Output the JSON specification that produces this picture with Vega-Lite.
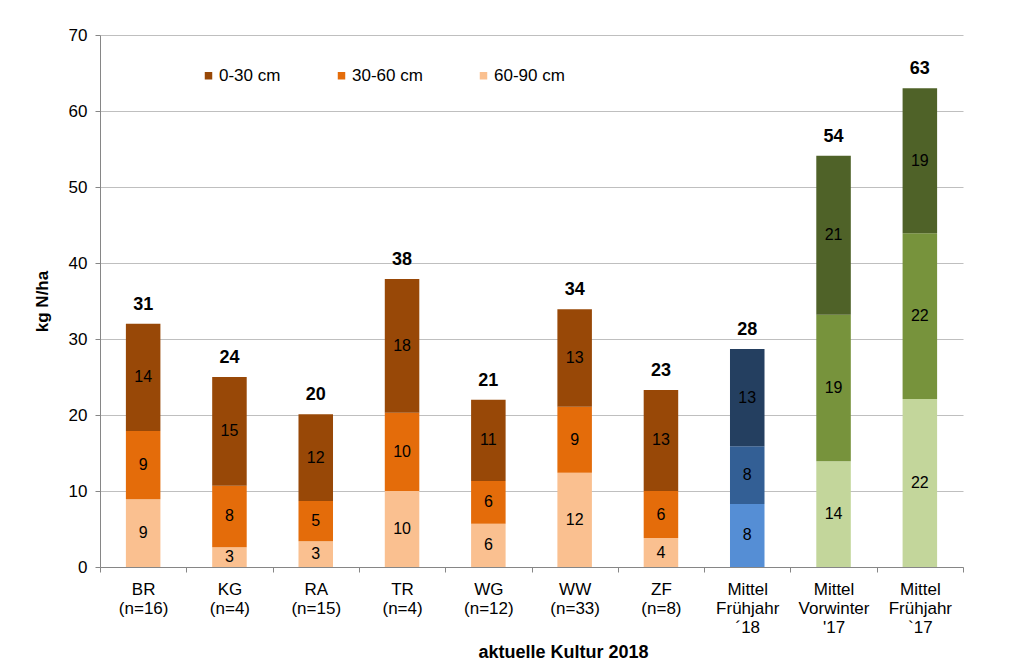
{
  "$schema": "https://vega.github.io/schema/vega-lite/v6.json",
  "width": 863,
  "height": 532,
  "autosize": "none",
  "padding": {"left": 100, "top": 35, "right": 55, "bottom": 99},
  "background": "white",
  "config": {
    "font": "Liberation Sans",
    "view": {"stroke": null},
    "axis": {"labelFont": "Liberation Sans", "titleFont": "Liberation Sans", "labelColor": "#000000", "titleColor": "#000000"}
  },
  "datasets": {
    "werte": [
      {"cat": "BR|(n=16)", "tiefe": "60-90 cm", "serie": "60-90 cm", "v": 8.9, "lab": "9"},
      {"cat": "BR|(n=16)", "tiefe": "30-60 cm", "serie": "30-60 cm", "v": 9.0, "lab": "9"},
      {"cat": "BR|(n=16)", "tiefe": "0-30 cm", "serie": "0-30 cm", "v": 14.1, "lab": "14"},
      {"cat": "KG|(n=4)", "tiefe": "60-90 cm", "serie": "60-90 cm", "v": 2.6, "lab": "3"},
      {"cat": "KG|(n=4)", "tiefe": "30-60 cm", "serie": "30-60 cm", "v": 8.1, "lab": "8"},
      {"cat": "KG|(n=4)", "tiefe": "0-30 cm", "serie": "0-30 cm", "v": 14.3, "lab": "15"},
      {"cat": "RA|(n=15)", "tiefe": "60-90 cm", "serie": "60-90 cm", "v": 3.4, "lab": "3"},
      {"cat": "RA|(n=15)", "tiefe": "30-60 cm", "serie": "30-60 cm", "v": 5.3, "lab": "5"},
      {"cat": "RA|(n=15)", "tiefe": "0-30 cm", "serie": "0-30 cm", "v": 11.4, "lab": "12"},
      {"cat": "TR|(n=4)", "tiefe": "60-90 cm", "serie": "60-90 cm", "v": 10.0, "lab": "10"},
      {"cat": "TR|(n=4)", "tiefe": "30-60 cm", "serie": "30-60 cm", "v": 10.3, "lab": "10"},
      {"cat": "TR|(n=4)", "tiefe": "0-30 cm", "serie": "0-30 cm", "v": 17.6, "lab": "18"},
      {"cat": "WG|(n=12)", "tiefe": "60-90 cm", "serie": "60-90 cm", "v": 5.7, "lab": "6"},
      {"cat": "WG|(n=12)", "tiefe": "30-60 cm", "serie": "30-60 cm", "v": 5.6, "lab": "6"},
      {"cat": "WG|(n=12)", "tiefe": "0-30 cm", "serie": "0-30 cm", "v": 10.7, "lab": "11"},
      {"cat": "WW|(n=33)", "tiefe": "60-90 cm", "serie": "60-90 cm", "v": 12.4, "lab": "12"},
      {"cat": "WW|(n=33)", "tiefe": "30-60 cm", "serie": "30-60 cm", "v": 8.7, "lab": "9"},
      {"cat": "WW|(n=33)", "tiefe": "0-30 cm", "serie": "0-30 cm", "v": 12.8, "lab": "13"},
      {"cat": "ZF|(n=8)", "tiefe": "60-90 cm", "serie": "60-90 cm", "v": 3.8, "lab": "4"},
      {"cat": "ZF|(n=8)", "tiefe": "30-60 cm", "serie": "30-60 cm", "v": 6.2, "lab": "6"},
      {"cat": "ZF|(n=8)", "tiefe": "0-30 cm", "serie": "0-30 cm", "v": 13.3, "lab": "13"},
      {"cat": "Mittel|Frühjahr|´18", "tiefe": "60-90 cm", "serie": "60-90 cm Mittel Frühjahr 18", "v": 8.3, "lab": "8"},
      {"cat": "Mittel|Frühjahr|´18", "tiefe": "30-60 cm", "serie": "30-60 cm Mittel Frühjahr 18", "v": 7.6, "lab": "8"},
      {"cat": "Mittel|Frühjahr|´18", "tiefe": "0-30 cm", "serie": "0-30 cm Mittel Frühjahr 18", "v": 12.8, "lab": "13"},
      {"cat": "Mittel|Vorwinter|'17", "tiefe": "60-90 cm", "serie": "60-90 cm Mittel 17", "v": 13.9, "lab": "14"},
      {"cat": "Mittel|Vorwinter|'17", "tiefe": "30-60 cm", "serie": "30-60 cm Mittel 17", "v": 19.3, "lab": "19"},
      {"cat": "Mittel|Vorwinter|'17", "tiefe": "0-30 cm", "serie": "0-30 cm Mittel 17", "v": 20.9, "lab": "21"},
      {"cat": "Mittel|Frühjahr|`17", "tiefe": "60-90 cm", "serie": "60-90 cm Mittel 17", "v": 22.1, "lab": "22"},
      {"cat": "Mittel|Frühjahr|`17", "tiefe": "30-60 cm", "serie": "30-60 cm Mittel 17", "v": 21.8, "lab": "22"},
      {"cat": "Mittel|Frühjahr|`17", "tiefe": "0-30 cm", "serie": "0-30 cm Mittel 17", "v": 19.1, "lab": "19"}
    ],
    "summen": [
      {"cat": "BR|(n=16)", "ges": "31"},
      {"cat": "KG|(n=4)", "ges": "24"},
      {"cat": "RA|(n=15)", "ges": "20"},
      {"cat": "TR|(n=4)", "ges": "38"},
      {"cat": "WG|(n=12)", "ges": "21"},
      {"cat": "WW|(n=33)", "ges": "34"},
      {"cat": "ZF|(n=8)", "ges": "23"},
      {"cat": "Mittel|Frühjahr|´18", "ges": "28"},
      {"cat": "Mittel|Vorwinter|'17", "ges": "54"},
      {"cat": "Mittel|Frühjahr|`17", "ges": "63"}
    ]
  },
  "data": {"name": "werte"},
  "encoding": {
    "x": {
      "field": "cat",
      "type": "nominal",
      "sort": null,
      "scale": {"paddingInner": 0, "paddingOuter": 0},
      "axis": {
        "title": "aktuelle Kultur 2018",
        "titleFontSize": 18,
        "titleFontWeight": "bold",
        "titlePadding": 8,
        "titleX": 463,
        "titleAlign": "center",
        "labelExpr": "split(datum.label, '|')",
        "labelAngle": 0,
        "labelFontSize": 17,
        "labelLineHeight": 19,
        "labelPadding": 9,
        "labelBaseline": "top",
        "tickBand": "extent",
        "tickSize": 5,
        "tickColor": "#868686",
        "domainColor": "#868686",
        "grid": false
      }
    }
  },
  "layer": [
    {
      "transform": [
        {"stack": "v", "groupby": ["cat"], "sort": [{"field": "tiefe", "order": "descending"}], "as": ["y0", "y1"]}
      ],
      "mark": {"type": "bar", "width": {"band": 0.4}},
      "encoding": {
        "y": {
          "field": "y1",
          "type": "quantitative",
          "scale": {"domain": [0, 70], "nice": false},
          "axis": {
            "title": "kg N/ha",
            "titleFontSize": 17,
            "titleFontWeight": "bold",
            "titlePadding": 17,
            "values": [0, 10, 20, 30, 40, 50, 60, 70],
            "labelFontSize": 17,
            "labelPadding": 8,
            "tickSize": 5,
            "tickColor": "#868686",
            "domainColor": "#868686",
            "gridColor": "#BFBFBF",
            "gridWidth": 1.2
          }
        },
        "y2": {"field": "y0"},
        "color": {
          "field": "serie",
          "type": "nominal",
          "scale": {
            "domain": ["0-30 cm", "30-60 cm", "60-90 cm", "0-30 cm Mittel Frühjahr 18", "30-60 cm Mittel Frühjahr 18", "60-90 cm Mittel Frühjahr 18", "0-30 cm Mittel 17", "30-60 cm Mittel 17", "60-90 cm Mittel 17"],
            "range": ["#984807", "#E46C0A", "#FAC090", "#243F60", "#335F95", "#558ED5", "#4F6228", "#77933C", "#C3D69B"]
          },
          "legend": {
            "values": ["0-30 cm", "30-60 cm", "60-90 cm"],
            "title": null,
            "orient": "none",
            "direction": "horizontal",
            "legendX": 100,
            "legendY": 32,
            "symbolType": "square",
            "symbolSize": 56,
            "symbolStrokeWidth": 0,
            "labelFontSize": 17,
            "labelColor": "#000000",
            "labelOffset": 2,
            "columnPadding": 52
          }
        }
      }
    },
    {
      "transform": [
        {"stack": "v", "groupby": ["cat"], "sort": [{"field": "tiefe", "order": "descending"}], "as": ["y0", "y1"]},
        {"calculate": "(datum.y0 + datum.y1) / 2", "as": "mid"}
      ],
      "mark": {"type": "text", "fontSize": 16, "color": "#000000", "baseline": "middle", "align": "center"},
      "encoding": {
        "y": {"field": "mid", "type": "quantitative"},
        "text": {"field": "lab"}
      }
    },
    {
      "transform": [
        {"aggregate": [{"op": "sum", "field": "v", "as": "top"}], "groupby": ["cat"]},
        {"lookup": "cat", "from": {"data": {"name": "summen"}, "key": "cat", "fields": ["ges"]}}
      ],
      "mark": {"type": "text", "fontSize": 18, "fontWeight": "bold", "color": "#000000", "baseline": "middle", "align": "center", "dy": -19},
      "encoding": {
        "y": {"field": "top", "type": "quantitative"},
        "text": {"field": "ges"}
      }
    }
  ]
}
